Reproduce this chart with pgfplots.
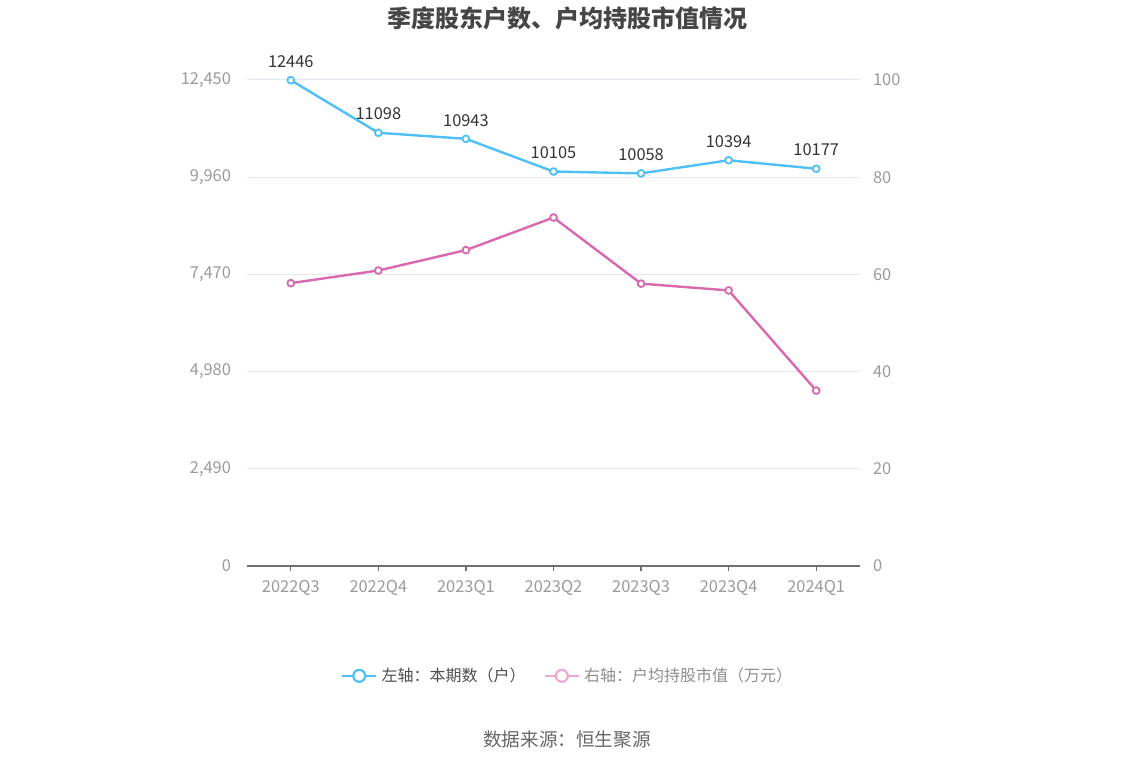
\documentclass[border=0pt]{standalone}
\usepackage{fontspec}
\setmainfont{Noto Sans CJK SC}
\usepackage{pgfplots}
\pgfplotsset{compat=1.18}
\definecolor{cblue}{HTML}{4FC0F7}
\definecolor{cpink}{HTML}{D968AE}
\definecolor{cpinkl}{HTML}{EFA8D2}
\definecolor{ctitle}{HTML}{464646}
\definecolor{ctick}{HTML}{9A9A9A}
\definecolor{cgrid}{HTML}{E3E7F2}
\definecolor{caxis}{HTML}{6E7079}
\definecolor{clab}{HTML}{333333}
\definecolor{csrc}{HTML}{666666}
\pgfplotsset{
  common/.style={
    at={(123.5pt,100pt)}, anchor=south west, scale only axis,
    width=306.5pt, height=243pt,
    xmin=-0.5, xmax=6.5,
    scaled ticks=false,
    tick label style={font=\fontsize{8.2}{10}\selectfont, text=ctick},
    /pgf/number format/assume math mode=true,
    /pgf/number format/.cd, fixed, precision=0, 1000 sep={,},
  },
}
\begin{document}
\begin{tikzpicture}[x=1pt,y=1pt]
\path[use as bounding box] (0,0) rectangle (567,383);
\node[font=\bfseries\fontsize{12}{14}\selectfont, text=ctitle] at (283.5,374) {季度股东户数、户均持股市值情况};
\node[font=\fontsize{9.3}{11}\selectfont, text=csrc] at (283.5,13) {数据来源：恒生聚源};
\begin{axis}[common,
  ymin=0, ymax=12450,
  ytick={0,2490,4980,7470,9960,12450},
  xtick={0,...,6},
  xticklabels={2022Q3,2022Q4,2023Q1,2023Q2,2023Q3,2023Q4,2024Q1},
  axis x line*=bottom, axis y line*=left,
  x axis line style={color=caxis, line width=0.6pt},
  y axis line style={draw=none},
  ytick style={draw=none},
  xtick style={color=caxis, line width=0.6pt},
  tick align=outside, major tick length=2.5pt,
  ymajorgrids, grid style={color=cgrid, line width=0.5pt},
  yticklabel style={xshift=-2pt},
  xticklabel style={yshift=-1pt},
]
\addplot[cblue, line width=1.2pt, mark=*, mark size=1.7pt, mark options={fill=white, draw=cblue, line width=0.9pt},
  nodes near coords, point meta=explicit symbolic,
  nodes near coords style={font=\fontsize{8.2}{10}\selectfont, text=clab, anchor=south, yshift=2.5pt}]
coordinates {(0,12446)[12446] (1,11098)[11098] (2,10943)[10943] (3,10105)[10105] (4,10058)[10058] (5,10394)[10394] (6,10177)[10177]};
\end{axis}
\begin{axis}[common,
  ymin=0, ymax=100,
  ytick={0,20,40,60,80,100},
  axis y line*=right,
  axis x line=none,
  y axis line style={draw=none},
  ytick style={draw=none},
  yticklabel style={xshift=3pt},
  legend style={at={(0.5245,-0.226)}, anchor=center, draw=none, fill=none,
    legend columns=2, font=\fontsize{8}{10}\selectfont,
    /tikz/every even column/.append style={column sep=7pt}},
]
\addlegendimage{cblue, line width=1.2pt, mark=*, mark size=3pt, mark options={fill=white, draw=cblue, line width=1.1pt}}
\addlegendentry{\textcolor[HTML]{4D4D4D}{左轴：本期数（户）}}
\addlegendimage{cpinkl, line width=1.2pt, mark=*, mark size=3pt, mark options={fill=white, draw=cpinkl, line width=1.1pt}}
\addlegendentry{\textcolor[HTML]{8C8C8C}{右轴：户均持股市值（万元）}}
\addplot[cpink, line width=1.2pt, mark=*, mark size=1.7pt, mark options={fill=white, draw=cpink, line width=0.9pt}, forget plot]
coordinates {(0,58.2) (1,60.8) (2,65.0) (3,71.7) (4,58.1) (5,56.7) (6,36.1)};
\end{axis}
\end{tikzpicture}
\end{document}
